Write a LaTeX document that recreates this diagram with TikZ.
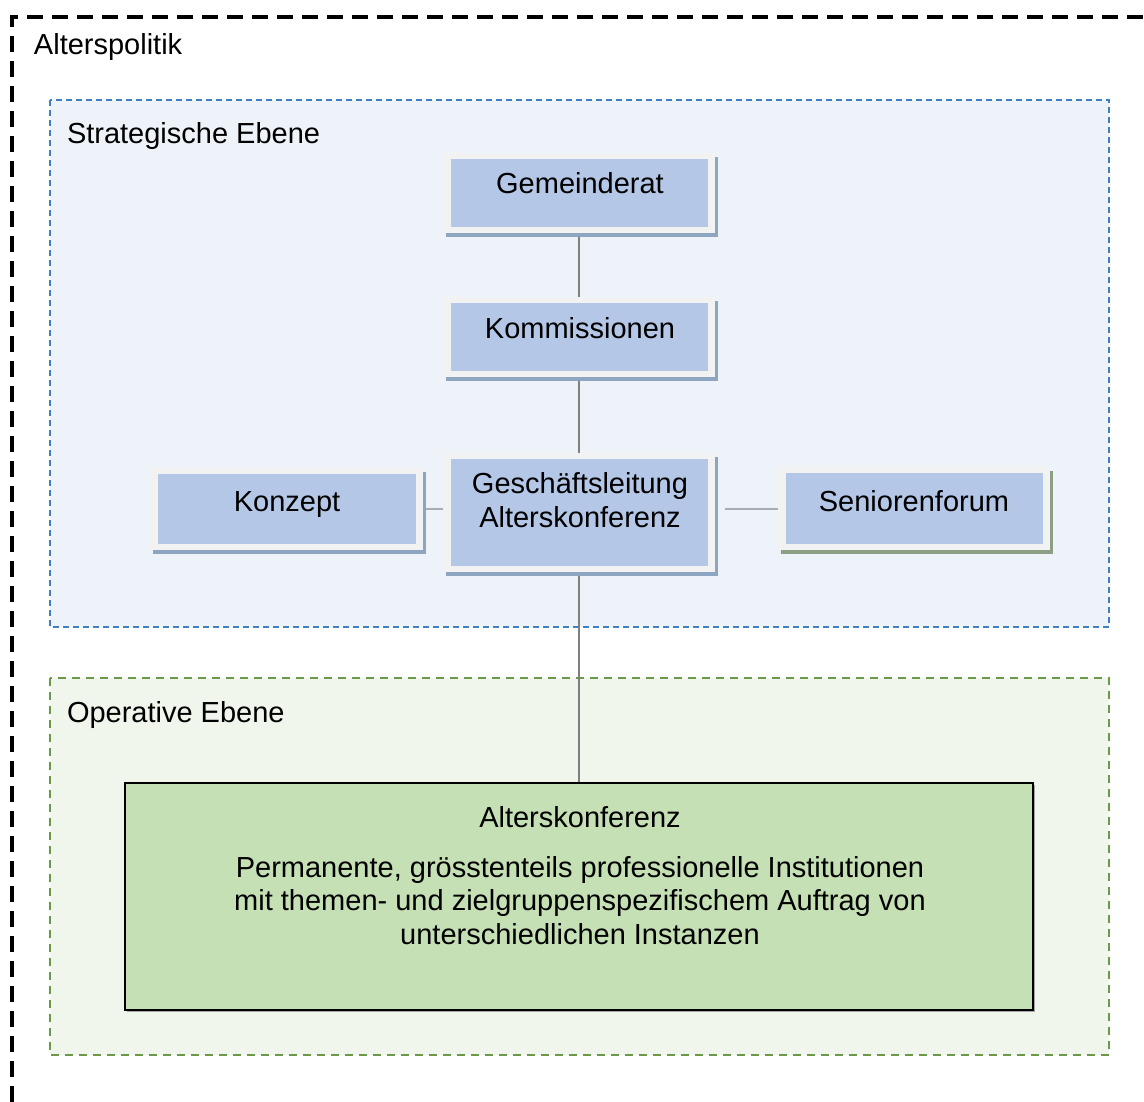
\documentclass[tikz,border=0pt]{standalone}
\usepackage{fontspec}
\setmainfont{Liberation Sans}
\usetikzlibrary{shadows}
\definecolor{stratfill}{HTML}{EEF3FA}
\definecolor{stratdraw}{HTML}{3F7FC4}
\definecolor{opfill}{HTML}{F0F6EC}
\definecolor{opdraw}{HTML}{6A994A}
\definecolor{framegray}{HTML}{F2F2F2}
\definecolor{boxblue}{HTML}{B4C7E7}
\definecolor{shblue}{HTML}{8EA5C2}
\definecolor{shgreen}{HTML}{8C9E83}
\definecolor{altfill}{HTML}{C5E0B4}
\definecolor{vline}{HTML}{7F7F7F}
\definecolor{hline}{HTML}{A8ADB3}
\pgfdeclarelayer{bg}
\pgfdeclarelayer{lines}
\pgfsetlayers{bg,lines,main}
\newcommand\orgbox[6]{%
  \node[frame, minimum width=#4pt, minimum height=#5pt,
        drop shadow={shadow xshift=3pt, shadow yshift=-4pt, fill=#6, opacity=1}] (#1) at (#2,#3) {};
  \fill[boxblue] ([shift={(8,6)}]#1.north west) rectangle ([shift={(-7,-6)}]#1.south east);
}
\begin{document}
\begin{tikzpicture}[x=1pt,y=-1pt,
  every node/.style={inner sep=0pt, outer sep=0pt, font=\fontsize{29}{33.5}\selectfont},
  frame/.style={rectangle, fill=framegray},
  lbl/.style={anchor=base west},
  ttl/.style={anchor=base},
  vcon/.style={draw=vline, line width=2pt},
  hcon/.style={draw=hline, line width=2pt}]
\useasboundingbox (0,0) rectangle (1144,1102);
% frames
\begin{pgfonlayer}{bg}
\draw[line width=4pt, dash pattern=on 16pt off 9pt] (12,1102) -- (12,17) -- (1144,17);
\draw[fill=stratfill, draw=stratdraw, line width=1.5pt, dash pattern=on 6pt off 4pt] (50,100) rectangle (1109,627);
\draw[fill=opfill, draw=opdraw, line width=2pt, dash pattern=on 8pt off 6pt] (50,678) rectangle (1109,1055);
\end{pgfonlayer}
\node[lbl] (tpol) at (34,55) {Alterspolitik};
\node[lbl] (tstr) at (67,144) {Strategische Ebene};
\node[lbl] (top) at (67,722) {Operative Ebene};
% boxes
\orgbox{gem}{579}{193}{272}{80}{shblue}
\node[ttl] (gemT) at (580,194) {Gemeinderat};
\orgbox{kom}{579}{337}{272}{80}{shblue}
\node[ttl] (komT) at (580,338) {Kommissionen};
\orgbox{ges}{579}{512.5}{272}{119}{shblue}
\node[ttl] (gesT1) at (580,493) {Geschäftsleitung};
\node[ttl] (gesT2) at (580,527) {Alterskonferenz};
\orgbox{kon}{286.5}{509}{273}{82}{shblue}
\node[ttl] (konT) at (287,511) {Konzept};
\orgbox{sen}{914}{508.5}{272}{83}{shgreen}
\node[ttl] (senT) at (914,511) {Seniorenforum};
% big box
\node[rectangle, fill=altfill, draw=black, line width=2pt, minimum width=908pt, minimum height=227pt,
      drop shadow={shadow xshift=1.5pt, shadow yshift=-1.5pt, fill=black!35, opacity=1}] (alt) at (579,896.5) {};
\node[ttl] (altT) at (580,827) {Alterskonferenz};
\node[align=center] (altB) at (580,900.5) {Permanente, grösstenteils professionelle Institutionen\\mit themen- und zielgruppenspezifischem Auftrag von\\unterschiedlichen Instanzen};
% connectors
\begin{pgfonlayer}{lines}
\draw[vcon] (gem.south) -- (kom.north);
\draw[vcon] (kom.south) -- (ges.north);
\draw[vcon] (ges.south) -- (alt.north);
\draw[hcon] (kon.east) -- (kon.east -| ges.west);
\draw[hcon] ([xshift=10pt]ges.east |- sen.west) -- (sen.west);
\end{pgfonlayer}
\end{tikzpicture}
\end{document}
